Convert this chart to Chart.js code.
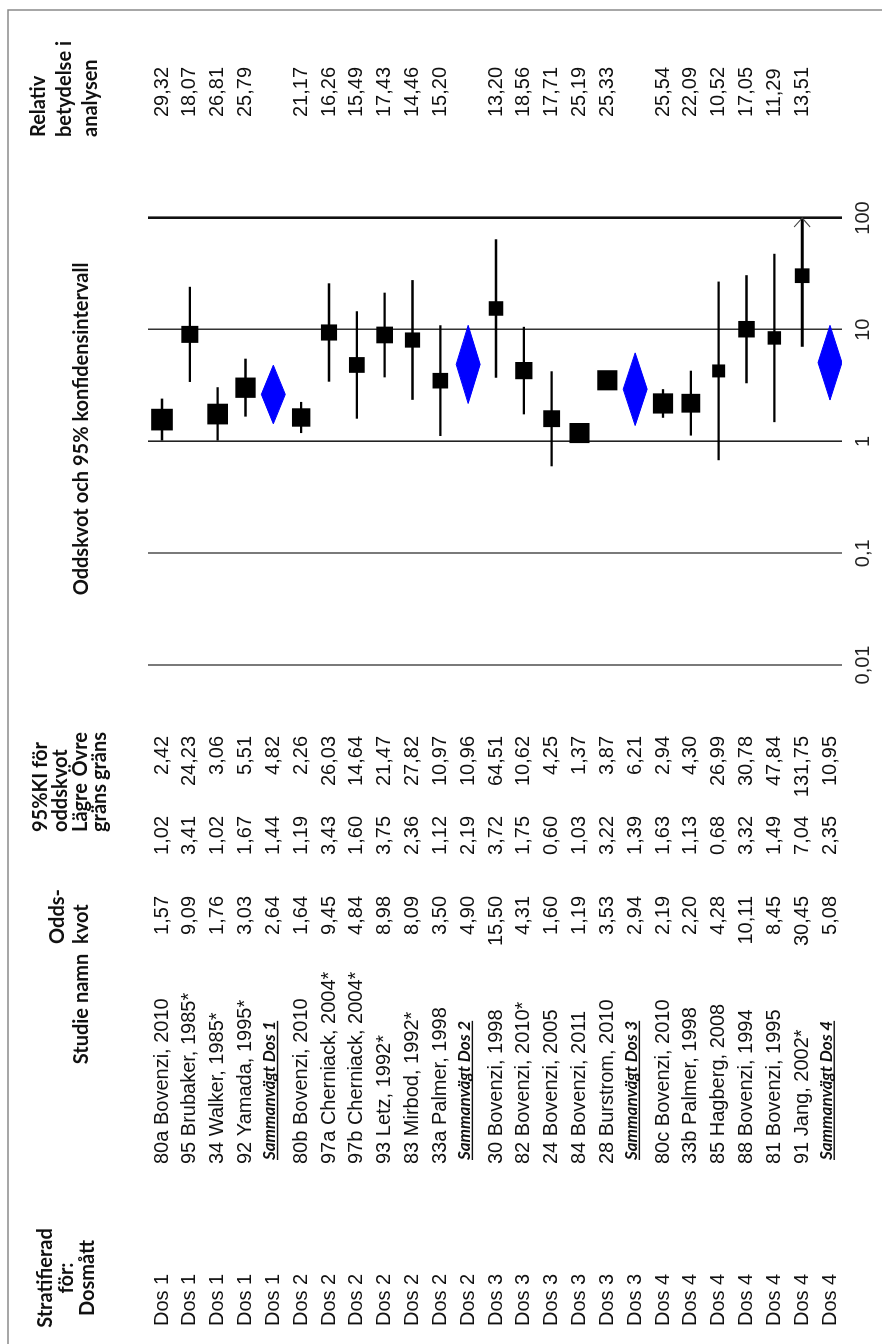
<!DOCTYPE html>
<html><head><meta charset="utf-8">
<script src="https://cdn.jsdelivr.net/npm/chart.js@4.4.1/dist/chart.umd.min.js"></script>
<style>
html,body{margin:0;padding:0;background:#fff;overflow:hidden;width:882px;height:1344px;}
#wrap{position:absolute;left:0;top:0;width:1344px;height:882px;transform-origin:0 0;transform:translate(0,1344px) rotate(-90deg);}
canvas{display:block;}
</style></head><body>
<div id="wrap"><canvas id="c" width="1344" height="882"></canvas></div>
<script>
// ---------------- DATA ----------------
const strata = ["Dos 1","Dos 1","Dos 1","Dos 1","Dos 1",
  "Dos 2","Dos 2","Dos 2","Dos 2","Dos 2","Dos 2","Dos 2",
  "Dos 3","Dos 3","Dos 3","Dos 3","Dos 3","Dos 3",
  "Dos 4","Dos 4","Dos 4","Dos 4","Dos 4","Dos 4","Dos 4"];
const studies = ["80a Bovenzi, 2010","95 Brubaker, 1985*","34 Walker, 1985*","92 Yamada, 1995*","Sammanvägt Dos 1",
  "80b Bovenzi, 2010","97a Cherniack, 2004*","97b Cherniack, 2004*","93 Letz, 1992*","83 Mirbod, 1992*","33a Palmer, 1998","Sammanvägt Dos 2",
  "30 Bovenzi, 1998","82 Bovenzi, 2010*","24 Bovenzi, 2005","84 Bovenzi, 2011","28 Burstrom, 2010","Sammanvägt Dos 3",
  "80c Bovenzi, 2010","33b Palmer, 1998","85 Hagberg, 2008","88 Bovenzi, 1994","81 Bovenzi, 1995","91 Jang, 2002*","Sammanvägt Dos 4"];
const oddsRatio = [1.57,9.09,1.76,3.03,2.64, 1.64,9.45,4.84,8.98,8.09,3.50,4.90, 15.50,4.31,1.60,1.19,3.53,2.94, 2.19,2.20,4.28,10.11,8.45,30.45,5.08];
const lowerCI   = [1.02,3.41,1.02,1.67,1.44, 1.19,3.43,1.60,3.75,2.36,1.12,2.19, 3.72,1.75,0.60,1.03,3.22,1.39, 1.63,1.13,0.68,3.32,1.49,7.04,2.35];
const upperCI   = [2.42,24.23,3.06,5.51,4.82, 2.26,26.03,14.64,21.47,27.82,10.97,10.96, 64.51,10.62,4.25,1.37,3.87,6.21, 2.94,4.30,26.99,30.78,47.84,131.75,10.95];
const relWeight = [29.32,18.07,26.81,25.79,null, 21.17,16.26,15.49,17.43,14.46,15.20,null, 13.20,18.56,17.71,25.19,25.33,null, 25.54,22.09,10.52,17.05,11.29,13.51,null];
const tickValues = [0.01,0.1,1,10,100];
const tickLabels = ["0,01","0,1","1","10","100"];
const axisTitle = "Oddskvot och 95% konfidensintervall";

// ---------------- STYLE / LAYOUT ----------------
const fmt = v => v.toFixed(2).replace('.', ',');
const isSummary = studies.map(s => s.startsWith('Sammanvägt'));
const DATA_FONT = '20px "Liberation Sans", Arial, sans-serif';
const HEAD_FONT = 'bold 20px Lato, "Open Sans", sans-serif';
const SUM_FONT = 'italic bold 17px Lato, "Open Sans", sans-serif';
const gridColors = ['#7a7a7a','#7a7a7a','#222','#333','#111'];
const gridWidths = [2,2,1.6,1.5,2.6];
const DIAMOND_H = 0.43;

const datasets = [];
const sqData = [], sqRadius = [];
studies.forEach((s,i) => {
  if (!isSummary[i]) {
    sqData.push({x: oddsRatio[i], y: i});
    sqRadius.push(4 * Math.sqrt(relWeight[i]) / Math.SQRT2);
  }
});
datasets.push({type:'line', order:0, showLine:false, data:sqData, pointStyle:'rect',
  pointRadius:sqRadius, pointHoverRadius:sqRadius, pointBackgroundColor:'#000', pointBorderWidth:0, borderWidth:0});
studies.forEach((s,i) => {
  if (isSummary[i]) {
    datasets.push({type:'line', order:1, data:[
        {x: lowerCI[i], y: i}, {x: oddsRatio[i], y: i - DIAMOND_H},
        {x: upperCI[i], y: i}, {x: oddsRatio[i], y: i + DIAMOND_H}, {x: lowerCI[i], y: i}],
      borderColor:'#0000ff', backgroundColor:'#0000ff', borderWidth:1, fill:'shape', pointRadius:0, tension:0});
  } else {
    datasets.push({type:'line', order:1, data:[{x: lowerCI[i], y: i}, {x: upperCI[i], y: i}],
      borderColor:'#000', borderWidth: upperCI[i] > 100 ? 3 : 2.3, pointRadius:0, fill:false});
  }
});

function txt(ctx, s, u, v, align, font, base) {
  ctx.font = font; ctx.textAlign = align; ctx.textBaseline = base || 'alphabetic';
  ctx.fillText(s, u, v);
}

const tablePlugin = {
  id:'table',
  beforeDraw(chart) {
    const ctx = chart.ctx;
    ctx.save();
    ctx.fillStyle = '#fff'; ctx.fillRect(0,0,chart.width,chart.height);
    ctx.strokeStyle = '#8a8a8a'; ctx.lineWidth = 1.5;
    ctx.beginPath(); ctx.moveTo(0, 8); ctx.lineTo(1334, 8); ctx.lineTo(1334, 882); ctx.stroke();
    ctx.restore();
  },
  afterDatasetsDraw(chart) {
    const ctx = chart.ctx, ys = chart.scales.y, xs = chart.scales.x;
    ctx.save();
    ctx.strokeStyle = '#444'; ctx.lineWidth = 1.2;
    studies.forEach((s,i) => {
      if (upperCI[i] > xs.max) {
        const r = chart.chartArea.right, v = ys.getPixelForValue(i);
        ctx.beginPath(); ctx.moveTo(r - 9, v - 8); ctx.lineTo(r, v); ctx.lineTo(r - 9, v + 8); ctx.stroke();
      }
    });
    ctx.fillStyle = '#111';
    // headers
    txt(ctx,'Stratifierad',66,52,'center',HEAD_FONT);
    txt(ctx,'för:',66,73,'center',HEAD_FONT);
    txt(ctx,'Dosmått',66,94,'center',HEAD_FONT);
    txt(ctx,'Studie namn',335,88,'center',HEAD_FONT);
    txt(ctx,'Odds-',400,64,'left',HEAD_FONT);
    txt(ctx,'kvot',400,88,'left',HEAD_FONT);
    txt(ctx,'95%KI för',512,47,'left',HEAD_FONT);
    txt(ctx,'oddskvot',512,67,'left',HEAD_FONT);
    txt(ctx,'Lägre',512,87,'left',HEAD_FONT);
    txt(ctx,'gräns',512,106,'left',HEAD_FONT);
    txt(ctx,'Övre',612,87,'right',HEAD_FONT);
    txt(ctx,'gräns',612,106,'right',HEAD_FONT);
    txt(ctx,'Relativ',1207,45,'left',HEAD_FONT);
    txt(ctx,'betydelse i',1207,71,'left',HEAD_FONT);
    txt(ctx,'analysen',1207,97,'left',HEAD_FONT);
    txt(ctx,axisTitle,915,88,'center',HEAD_FONT);
    // rows
    studies.forEach((s,i) => {
      const v = ys.getPixelForValue(i);
      txt(ctx, strata[i], 18, v, 'left', DATA_FONT, 'middle');
      if (isSummary[i]) {
        txt(ctx, s, 184, v + 2, 'left', SUM_FONT);
        const w = ctx.measureText(s).width;
        ctx.fillRect(184, v + 3.5, w, 1.4);
      } else {
        txt(ctx, s, 180, v, 'left', DATA_FONT, 'middle');
        txt(ctx, fmt(relWeight[i]), 1227, v, 'left', DATA_FONT, 'middle');
      }
      txt(ctx, fmt(oddsRatio[i]), 448, v, 'right', DATA_FONT, 'middle');
      txt(ctx, fmt(lowerCI[i]), 528, v, 'right', DATA_FONT, 'middle');
      txt(ctx, fmt(upperCI[i]), 608, v, 'right', DATA_FONT, 'middle');
    });
    ctx.restore();
  }
};

new Chart(document.getElementById('c'), {
  type:'line',
  data:{datasets},
  options:{
    responsive:false, animation:false, devicePixelRatio:1,
    layout:{padding:{left:679,right:218,top:148,bottom:0}},
    plugins:{legend:{display:false}, tooltip:{enabled:false}},
    scales:{
      x:{type:'logarithmic', position:'bottom', min:0.01, max:100,
        afterBuildTicks: s => { s.ticks = tickValues.map(v => ({value:v})); },
        afterFit: s => { s.height = 40; },
        ticks:{autoSkip:false, maxRotation:0, minRotation:0, padding:9, color:'#222',
          font:{family:'"Liberation Sans", Arial, sans-serif', size:20},
          callback:(v,i) => tickLabels[i]},
        grid:{drawTicks:false, color:c => gridColors[c.index], lineWidth:c => gridWidths[c.index]},
        border:{display:false}
      },
      y:{type:'linear', display:false, reverse:true, min:-0.503, max:24.431}
    }
  },
  plugins:[tablePlugin]
});
</script>
</body></html>
